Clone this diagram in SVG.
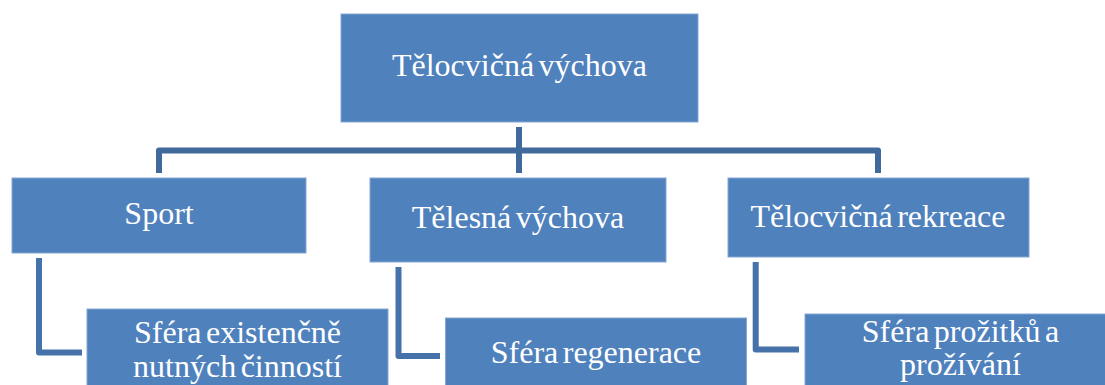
<svg xmlns="http://www.w3.org/2000/svg" width="1105" height="385" viewBox="0 0 1105 385">
<style>
.box{fill:#4F81BD;stroke:#86A5D2;stroke-width:1}
.lbl{fill:#FFFFFF;font-family:"Liberation Serif","Times New Roman",serif;font-size:32px;text-anchor:middle;word-spacing:-3.5px}
.main{fill:none;stroke:#40699C;stroke-width:6;stroke-linejoin:round}
.child{fill:none;stroke:#4672AA;stroke-width:6;stroke-linejoin:round}
</style>
<rect width="1105" height="385" fill="#FFFFFF"/>
<g id="connectors">
<path class="main" d="M519,127 V173"/>
<path class="main" d="M159,173 V150.5 H878 V173"/>
<path class="child" d="M39,258 V352.5 H82"/>
<path class="child" d="M398.5,267 V356 H440"/>
<path class="child" d="M755.7,262 V349.5 H799"/>
</g>
<g id="node-telocvicna-vychova">
<rect class="box" x="341" y="14" width="357" height="108"/>
<text class="lbl" x="519.5" y="76">Tělocvičná výchova</text>
</g>
<g id="node-sport">
<rect class="box" x="12" y="178" width="294" height="75"/>
<text class="lbl" x="159" y="224">Sport</text>
</g>
<g id="node-telesna-vychova">
<rect class="box" x="370" y="178" width="296" height="84"/>
<text class="lbl" x="518" y="228">Tělesná výchova</text>
</g>
<g id="node-telocvicna-rekreace">
<rect class="box" x="728" y="178" width="301" height="79"/>
<text class="lbl" x="878" y="227">Tělocvičná rekreace</text>
</g>
<g id="node-sfera-existencne">
<rect class="box" x="87" y="309" width="301" height="90"/>
<text class="lbl" x="237.5" y="343">Sféra existenčně</text>
<text class="lbl" x="237.5" y="377">nutných činností</text>
</g>
<g id="node-sfera-regenerace">
<rect class="box" x="445.5" y="318" width="301" height="80"/>
<text class="lbl" x="596" y="363">Sféra regenerace</text>
</g>
<g id="node-sfera-prozitku">
<rect class="box" x="805" y="314" width="310" height="80"/>
<text class="lbl" x="960.5" y="342">Sféra prožitků a</text>
<text class="lbl" x="960.5" y="375">prožívání</text>
</g>
</svg>
